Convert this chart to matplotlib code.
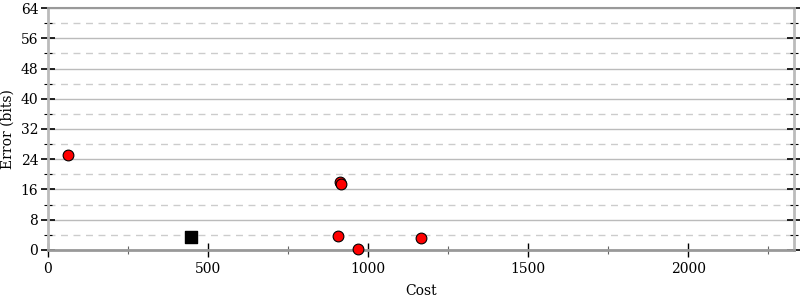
import matplotlib
matplotlib.use("Agg")
import matplotlib.pyplot as plt
from matplotlib.ticker import MultipleLocator

plt.rcParams['font.family'] = ['DejaVu Serif']

# other candidates (red circles)
cost = [62, 912, 914, 906, 969, 1166]
error = [25.1, 18.0, 17.4, 3.7, 0.3, 3.2]
# chosen program (black square)
best_cost = [447]
best_error = [3.4]

fig = plt.figure(figsize=(8, 3), dpi=100)
ax = fig.add_axes([0.06, 0.167, 0.9325, 0.806])

ax.scatter(cost, error, s=60, c='red', edgecolors='black', linewidths=0.8, zorder=3, clip_on=False)
ax.scatter(best_cost, best_error, s=80, c='black', marker='s', zorder=3, clip_on=False)

ax.set_xlim(0, 2331)
ax.set_ylim(0, 64)
ax.xaxis.set_major_locator(MultipleLocator(500))
ax.xaxis.set_minor_locator(MultipleLocator(250))
ax.yaxis.set_major_locator(MultipleLocator(8))
ax.yaxis.set_minor_locator(MultipleLocator(4))

ax.grid(True, which='major', axis='y', color='#bbbbbb', linestyle='-', linewidth=1)
ax.grid(True, which='minor', axis='y', color='#cccccc', linestyle=(0, (5, 4)), linewidth=1)
ax.set_axisbelow(True)

for side in ['left', 'right']:
    ax.spines[side].set_color('#bbbbbb')
    ax.spines[side].set_linewidth(2)
ax.spines['bottom'].set_color('#999999')
ax.spines['bottom'].set_linewidth(2)
ax.spines['top'].set_color('#999999')
ax.spines['top'].set_linewidth(1.5)

ax.tick_params(axis='y', which='both', direction='inout', left=True, right=True, labelsize=10, pad=2)
ax.tick_params(axis='y', which='major', length=10, width=1.2)
ax.tick_params(axis='y', which='minor', length=6, width=0.8)
ax.tick_params(axis='x', which='major', direction='inout', length=10, width=1, labelsize=10)
ax.tick_params(axis='x', which='minor', direction='inout', length=6, width=0.8, color='#666666')

ax.set_xlabel('Cost', fontsize=10, labelpad=6)
ax.set_ylabel('Error (bits)', fontsize=10, labelpad=4)

fig.savefig('out.png', dpi=100)
